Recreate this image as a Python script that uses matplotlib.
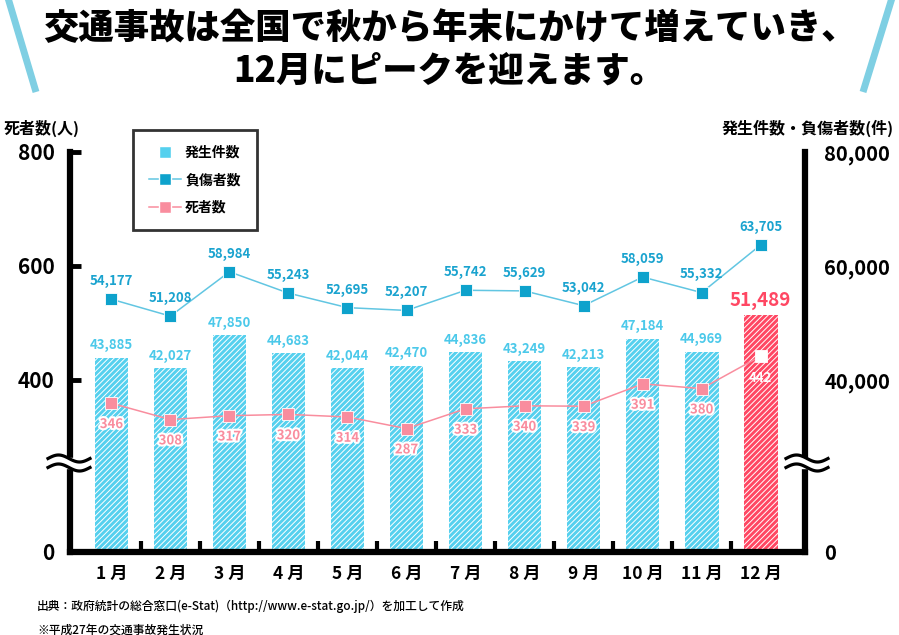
import numpy as np
import matplotlib
matplotlib.use("Agg")
import matplotlib.pyplot as plt
from matplotlib.lines import Line2D
from matplotlib.patches import Rectangle
import matplotlib.patheffects as pe

# ---------------- data ----------------
months = ["1 月", "2 月", "3 月", "4 月", "5 月", "6 月", "7 月", "8 月", "9 月", "10 月", "11 月", "12 月"]
accidents = [43885, 42027, 47850, 44683, 42044, 42470, 44836, 43249, 42213, 47184, 44969, 51489]
injuries = [54177, 51208, 58984, 55243, 52695, 52207, 55742, 55629, 53042, 58059, 55332, 63705]
deaths = [346, 308, 317, 320, 314, 287, 333, 340, 339, 391, 380, 442]
left_ticks = [0, 400, 600, 800]
right_ticks = [0, 40000, 60000, 80000]
right_tick_labels = ["0", "40,000", "60,000", "80,000"]
title_lines = ["交通事故は全国で秋から年末にかけて増えていき、", "12月にピークを迎えます。"]
source_lines = ["出典：政府統計の総合窓口(e-Stat)（http://www.e-stat.go.jp/）を加工して作成",
                "※平成27年の交通事故発生状況"]

FAM = ["Noto Sans CJK JP", "DejaVu Sans"]
plt.rcParams['font.family'] = FAM
plt.rcParams['hatch.linewidth'] = 0.7

C_BAR = "#55d0ee"
C_BAR_RED = "#ff4763"
C_INJ = "#0ea2cc"
C_INJ_LINE = "#62c6e2"
C_DEATH = "#f98d9e"
C_INJ_TXT = "#1aa3cf"
C_BAR_TXT = "#4cc9ea"

W, H = 899, 635
fig = plt.figure(figsize=(W / 100, H / 100), dpi=100)

def fx(px):
    return px / W

def fy(py):
    return 1 - py / H

ax_l, ax_r, ax_b, ax_t = 70, 805, 552, 152
ax = fig.add_axes([fx(ax_l), fy(ax_b), fx(ax_r) - fx(ax_l), fy(ax_t) - fy(ax_b)])

# broken scale: compressed below 40,000
BRK = 40000.0
K = 0.7544

def fwd(y):
    y = np.asarray(y, dtype=float)
    return np.where(y >= BRK, y, BRK - (BRK - y) * K)

def inv(f):
    f = np.asarray(f, dtype=float)
    return np.where(f >= BRK, f, BRK - (BRK - f) / K)

ax.set_yscale('function', functions=(fwd, inv))
x = np.arange(len(months))
ax.set_xlim(-0.70, 11.75)
ax.set_ylim(0, 80000)

# bars
colors = [C_BAR] * (len(months) - 1) + [C_BAR_RED]
for i, v in enumerate(accidents):
    ax.bar(x[i], v, width=0.57, color=colors[i], edgecolor="white", hatch="//////",
           linewidth=0, zorder=2)

# injuries line
ax.plot(x, injuries, color=C_INJ_LINE, lw=1.1, zorder=3)
ax.plot(x, injuries, ls="none", marker="s", ms=9, color=C_INJ, mec="white", mew=0.6, zorder=4)

# deaths line (left axis, plotted in right-axis units: 400 <-> 40,000)
d_scaled = [d * 100 for d in deaths]
ax.plot(x, d_scaled, color=C_DEATH, lw=1.1, zorder=3)
dcols = [C_DEATH] * (len(months) - 1) + ["white"]
for i, v in enumerate(d_scaled):
    ax.plot(x[i], v, ls="none", marker="s", ms=9, color=dcols[i], mec="white", mew=0.6, zorder=4)

# labels
LBL = 9.5
for i in range(len(months)):
    ax.annotate(f"{injuries[i]:,}", (x[i], injuries[i]), xytext=(0, 8), textcoords="offset points",
                ha="center", va="bottom", fontsize=LBL, fontweight="bold", color=C_INJ_TXT, zorder=5)
    if i == len(months) - 1:
        ax.annotate(f"{accidents[i]:,}", (x[i], accidents[i]), xytext=(0, 3), textcoords="offset points",
                    ha="center", va="bottom", fontsize=13.5, fontweight="bold", color=C_BAR_RED, zorder=5)
        ax.annotate(f"{deaths[i]}", (x[i], d_scaled[i]), xytext=(0, -15.5), textcoords="offset points",
                    ha="center", va="center", fontsize=LBL, fontweight="bold", color="white", zorder=5)
    else:
        ax.annotate(f"{accidents[i]:,}", (x[i], accidents[i]), xytext=(0, 4), textcoords="offset points",
                    ha="center", va="bottom", fontsize=LBL, fontweight="bold", color=C_BAR_TXT, zorder=5)
        ax.annotate(f"{deaths[i]}", (x[i], d_scaled[i]), xytext=(0, -15), textcoords="offset points",
                    ha="center", va="center", fontsize=LBL, fontweight="bold", color=C_DEATH, zorder=5,
                    path_effects=[pe.withStroke(linewidth=3, foreground="white")])

# spines / ticks
for s in ["left", "right", "bottom"]:
    ax.spines[s].set_linewidth(4.5)
    ax.spines[s].set_color("black")
ax.spines["top"].set_visible(False)
ax.spines["bottom"].set_capstyle("projecting")

ax.set_xticks(x)
ax.set_xticklabels(months, fontsize=12.5, fontweight="bold")
ax.tick_params(axis="x", which="major", length=0, pad=9)
ax.set_xticks(x[:-1] + 0.5, minor=True)
ax.tick_params(axis="x", which="minor", direction="in", length=8, width=3, color="black")

ax.set_yticks(right_ticks)
ax.set_yticklabels([str(v) for v in left_ticks], fontsize=15, fontweight="bold")
ax.yaxis.set_minor_locator(matplotlib.ticker.NullLocator())
ax.tick_params(axis="y", which="major", direction="in", length=8, width=3.5, pad=11, left=True, right=True)

ax2 = ax.twinx()
ax2.set_yscale('function', functions=(fwd, inv))
ax2.set_ylim(0, 80000)
ax2.set_yticks(right_ticks)
ax2.set_yticklabels(right_tick_labels, fontsize=14.5, fontweight="bold")
ax2.yaxis.set_minor_locator(matplotlib.ticker.NullLocator())
ax2.tick_params(axis="y", which="major", direction="in", length=0, pad=14)
for s in ["left", "right", "bottom", "top"]:
    ax2.spines[s].set_visible(False)

# axis titles
fig.text(fx(4), fy(128), "死者数(人)", fontsize=11.5, fontweight="bold", ha="left", va="center")
fig.text(fx(894), fy(128), "発生件数・負傷者数(件)", fontsize=11.5, fontweight="bold", ha="right", va="center")

# legend
handles = [
    Line2D([], [], ls="none", marker="s", ms=9, color=C_BAR, mec="white"),
    Line2D([], [], color=C_INJ_LINE, lw=1.1, marker="s", ms=9, mfc=C_INJ, mec="white"),
    Line2D([], [], color=C_DEATH, lw=1.1, marker="s", ms=9, mfc=C_DEATH, mec="white"),
]
leg = fig.legend(handles, ["発生件数", "負傷者数", "死者数"], loc="upper left",
                 bbox_to_anchor=(fx(133), fy(130)), frameon=True, fancybox=False,
                 prop={"family": FAM, "weight": "bold", "size": 10},
                 handlelength=2.3, handletextpad=0.3, labelspacing=0.95,
                 borderpad=1.15, borderaxespad=0)
leg.get_frame().set_edgecolor("black")
leg.get_frame().set_linewidth(2)
leg.set_zorder(10)

# title
for ypx, line in zip((28, 71), title_lines):
    fig.text(0.5, fy(ypx), line, fontsize=25.5, fontweight="heavy", ha="center", va="center")

# decorative slanted lines
fig.add_artist(Line2D([fx(8), fx(36)], [fy(-2), fy(92)], color="#7fcfe3", lw=5, solid_capstyle="butt"))
fig.add_artist(Line2D([fx(892), fx(863)], [fy(-2), fy(92)], color="#7fcfe3", lw=5, solid_capstyle="butt"))

# break marks
def brk(cx, cy):
    fig.add_artist(Rectangle((fx(cx - 6), fy(cy + 5)), fx(12), fy(cy - 5) - fy(cy + 5),
                             color="white", zorder=20, transform=fig.transFigure))
    t = np.linspace(0, 1, 60)
    xs = cx - 21 + 42 * t
    for off in (-4.5, 4.5):
        ys = cy + off - 3.5 * np.sin(2 * np.pi * t)
        fig.add_artist(Line2D(fx(xs), fy(ys), color="black", lw=2.3, zorder=21))

brk(69, 463)
brk(807, 463)

# source
fig.text(fx(37), fy(606), source_lines[0], fontsize=8.5, fontweight="medium", ha="left", va="center")
fig.text(fx(37), fy(630), source_lines[1], fontsize=8.5, fontweight="medium", ha="left", va="center")

fig.savefig("out.png", dpi=100)
